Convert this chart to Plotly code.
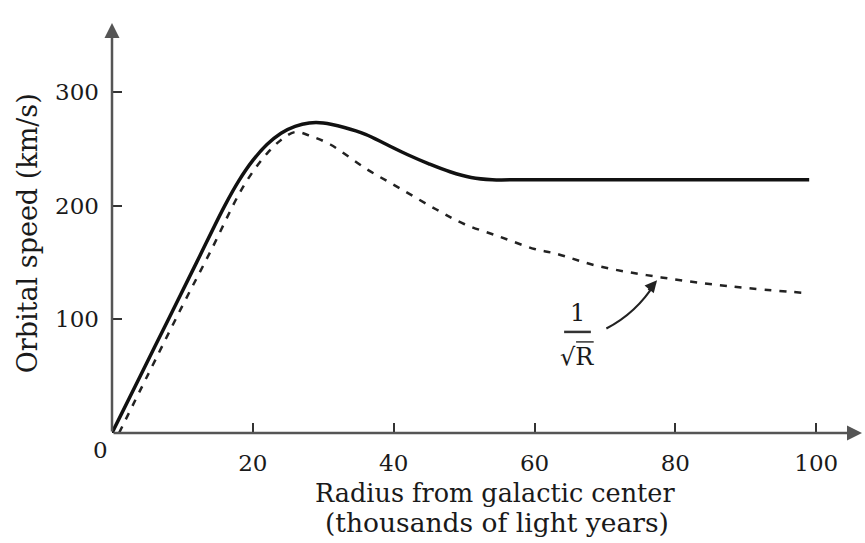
import plotly.graph_objects as go

# Observed rotation curve (solid)
radius_obs = [0, 4, 8, 12, 16, 18, 20, 22, 24, 26, 28, 30, 33, 36, 39, 42, 45, 48, 51, 54, 58, 65, 75, 85, 99]
speed_obs = [0, 50, 100, 150, 200, 222, 240, 254, 264, 270, 273, 273, 269, 263, 254, 245, 237, 230, 225, 223, 223, 223, 223, 223, 223]

# Keplerian expectation (dashed, ~1/sqrt(R))
radius_kep = [1, 5, 10, 14, 18, 20, 22, 24, 26, 28, 31, 36, 41, 46, 50, 55, 60, 63, 69, 78, 88, 99]
speed_kep = [0, 50, 112, 160, 210, 230, 246, 258, 265, 262, 254, 233, 215, 197, 184, 173, 162, 158, 147, 137, 129, 123]

x_ticks = [20, 40, 60, 80, 100]
x_ticktext = ["20", "40", "60", "80", "100"]
y_ticks = [100, 200, 300]
y_ticktext = ["100", "200", "300"]

FONT = "DejaVu Serif"
INK = "#1a1a1a"

fig = go.Figure()
fig.add_trace(go.Scatter(x=radius_kep, y=speed_kep, mode="lines",
                         line=dict(color="#222", width=2.5, dash="7px,8px", shape="spline"),
                         hoverinfo="skip", showlegend=False))
fig.add_trace(go.Scatter(x=radius_obs, y=speed_obs, mode="lines",
                         line=dict(color="#111", width=3.5, shape="spline"),
                         hoverinfo="skip", showlegend=False))

XMAX, YMAX = 106.5, 361

fig.update_layout(
    width=865, height=543,
    margin=dict(l=112, r=3, t=23, b=110),
    paper_bgcolor="white", plot_bgcolor="white",
    xaxis=dict(range=[0, XMAX], tickvals=x_ticks, ticktext=x_ticktext, automargin=False,
               ticks="inside", ticklen=10, tickwidth=2, tickcolor="#333",
               showgrid=False, zeroline=False, showline=False,
               tickfont=dict(family=FONT, size=23, color=INK), ticklabelstandoff=14),
    yaxis=dict(range=[0, YMAX], tickvals=y_ticks, ticktext=y_ticktext, automargin=False,
               ticks="inside", ticklen=10, tickwidth=2, tickcolor="#333",
               showgrid=False, zeroline=False, showline=False,
               tickfont=dict(family=FONT, size=23, color=INK), ticklabelstandoff=12),
)

ann = []
# axis lines with arrowheads
ann.append(dict(x=0, y=YMAX, ax=0, ay=0, xref="x", yref="y", axref="x", ayref="y",
                text="", showarrow=True, arrowhead=2, arrowsize=1.2, arrowwidth=2.5, arrowcolor="#555"))
ann.append(dict(x=XMAX, y=0, ax=0, ay=0, xref="x", yref="y", axref="x", ayref="y",
                text="", showarrow=True, arrowhead=2, arrowsize=1.2, arrowwidth=2.5, arrowcolor="#555"))
# origin label
ann.append(dict(x=-0.0151, y=-0.041, xref="paper", yref="paper", text="0", showarrow=False,
                xanchor="center", yanchor="middle", font=dict(family=FONT, size=23, color=INK)))
# axis titles
ann.append(dict(x=0.5107, y=-0.1463, xref="paper", yref="paper", text="Radius from galactic center",
                xanchor="center", yanchor="middle",
                showarrow=False, font=dict(family=FONT, size=25.5, color=INK)))
ann.append(dict(x=0.513, y=-0.2195, xref="paper", yref="paper", text="(thousands of light years)",
                xanchor="center", yanchor="middle",
                showarrow=False, font=dict(family=FONT, size=26.5, color=INK)))
ann.append(dict(x=-0.1133, y=0.487, xref="paper", yref="paper", text="Orbital speed (km/s)", textangle=-90,
                xanchor="center", yanchor="middle",
                showarrow=False, font=dict(family=FONT, size=27, color=INK)))
# 1/sqrt(R) label
ann.append(dict(x=66.1, y=106, xref="x", yref="y", text="1", showarrow=False,
                font=dict(family=FONT, size=24, color=INK)))
ann.append(dict(x=66.1, y=67, xref="x", yref="y", text="√R", showarrow=False,
                font=dict(family=FONT, size=24, color=INK)))
# arrowhead for the pointer
ann.append(dict(x=77.4, y=134.5, ax=76.0, ay=124.5, xref="x", yref="y", axref="x", ayref="y",
                text="", showarrow=True, arrowhead=2, arrowsize=1.1, arrowwidth=2.2, arrowcolor="#222"))
fig.update_layout(annotations=ann)

# fraction bar, radical vinculum and pointer curve
fig.add_shape(type="line", xref="x", yref="y", x0=64.2, x1=68.0, y0=89, y1=89,
              line=dict(color="#333", width=2.5))
fig.add_shape(type="line", xref="x", yref="y", x0=65.9, x1=68.4, y0=80.2, y1=80.2,
              line=dict(color="#333", width=1.5))
fig.add_shape(type="path", xref="x", yref="y",
              path="M 70.2 92 Q 74.5 106 77.0 131",
              line=dict(color="#222", width=2.2))

fig.write_html("out.html", config={"displayModeBar": False},
               post_script="document.body.style.margin='0';document.body.style.padding='0';")
